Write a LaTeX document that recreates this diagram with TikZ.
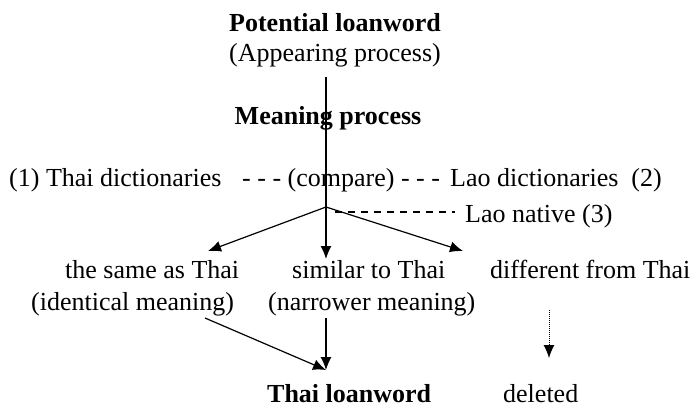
\documentclass[tikz,border=0pt]{standalone}
\usepackage{fontspec}
\setmainfont{Liberation Serif}
\usetikzlibrary{arrows.meta}
\tikzset{>={Latex[length=13pt,width=11pt]}}
\tikzset{
	word/.style={inner sep=0pt, font=\fontsize{26}{30}\selectfont},
	bword/.style={word, font=\fontsize{26}{30}\selectfont\bfseries},
	flow/.style={->, line width=1.2pt},
	dotflow/.style={->, line width=1pt, densely dotted}
}

\begin{document}
\begin{tikzpicture}[x=1pt,y=-1pt]
			\useasboundingbox (0,0) rectangle (697,408);

			% Top
			\node[bword, anchor=base] (pot) at (335,31) {Potential loanword};
			\node[word, anchor=base] (app) at (335,61) {(Appearing process)};
			\node[bword, anchor=base] (mean) at (328,124) {Meaning process};

			% Compare row
			\node[word, anchor=base west] (thai) at (9,186) {(1) Thai dictionaries};
			\node[word, anchor=base west] (cmp) at (242,186) {- - - (compare) - - -};
			\node[word, anchor=base west] (lao) at (450,186) {Lao dictionaries\ \ (2)};
			\node[word, anchor=base west] (native) at (465,222) {Lao native (3)};

			% Results
			\node[word, anchor=base west] (same) at (65,278) {the same as Thai};
			\node[word, anchor=base west] (ident) at (31,310) {(identical meaning)};
			\node[word, anchor=base west] (sim) at (292,278) {similar to Thai};
			\node[word, anchor=base west] (narr) at (268,310) {(narrower meaning)};
			\node[word, anchor=base west] (diff) at (490,278) {different from Thai};

			% Bottom
			\node[bword, anchor=base west] (loan) at (267,402) {Thai loanword};
			\node[word, anchor=base west] (del) at (503,402) {deleted};

			% Points
			\coordinate (top) at (326,77);
			\coordinate (br) at (326,207);
			\coordinate (tipL) at (208,251);
			\coordinate (tipM) at (326,259);
			\coordinate (tipR) at (463,251);
			\coordinate (dashA) at (335,212);
			\coordinate (dashB) at (455,212);
			\coordinate (identOut) at (205,318);
			\coordinate (narrOut) at (326,318);
			\coordinate (loanIn) at (326,370);
			\coordinate (diffOut) at (549,310);
			\coordinate (delIn) at (549,358);

			% Draw lines
			\draw[line width=1.2pt] (top) -- (br);
			\draw[flow] (br) -- (tipL);
			\draw[flow] (br) -- (tipM);
			\draw[flow] (br) -- (tipR);
			\draw[line width=1.2pt, dash pattern=on 7pt off 6pt] (dashA) -- (dashB);
			\draw[flow] (identOut) -- (loanIn);
			\draw[flow] (narrOut) -- (loanIn);
			\draw[dotflow] (diffOut) -- (delIn);
		\end{tikzpicture}
\end{document}
